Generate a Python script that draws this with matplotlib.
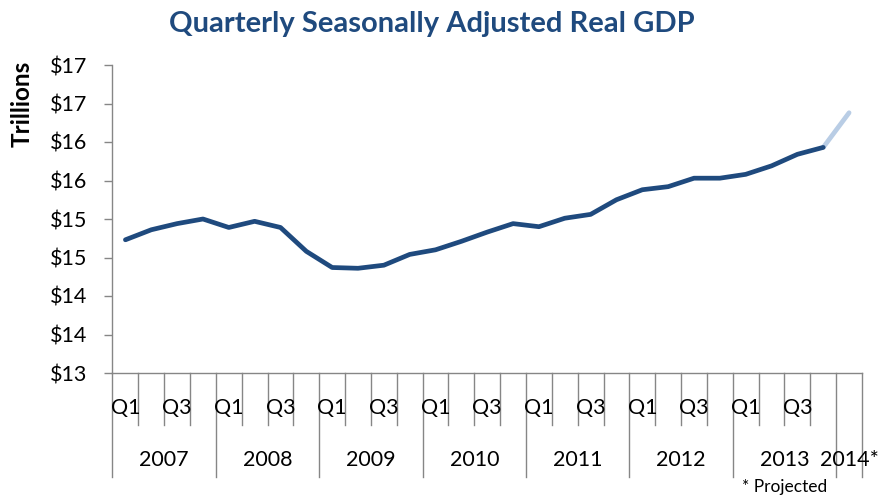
import matplotlib
matplotlib.use("Agg")
import matplotlib.pyplot as plt
import matplotlib.transforms as mtransforms

# ---------------- data ----------------
years = ["2007", "2008", "2009", "2010", "2011", "2012", "2013"]
quarter_labels = ["Q1", "", "Q3", ""]
projected_year = "2014*"
gdp = [14.73, 14.86, 14.94, 15.00, 14.89, 14.97, 14.89, 14.58,
       14.37, 14.36, 14.40, 14.54, 14.60, 14.71, 14.83, 14.94,
       14.90, 15.01, 15.06, 15.25, 15.38, 15.42, 15.53, 15.53,
       15.58, 15.69, 15.84, 15.93]
gdp_projected = 16.38
ytick_values = [13.0, 13.5, 14.0, 14.5, 15.0, 15.5, 16.0, 16.5, 17.0]
ytick_labels = ["$13", "$14", "$14", "$15", "$15", "$16", "$16", "$17", "$17"]
title = "Quarterly Seasonally Adjusted Real GDP"
ylabel = "Trillions"
footnote = "* Projected"

# ---------------- style ----------------
FONT = ["Lato", "DejaVu Sans"]
plt.rcParams["font.family"] = FONT
W, H, DPI = 895, 495, 100
AX_L, AX_R, AX_T, AX_B = 112.5, 862, 65, 373
GREY = "#868686"
DARK = "#1F4A7E"
LIGHT = "#B9CDE5"
LBL = 15.5

fig = plt.figure(figsize=(W / DPI, H / DPI), dpi=DPI)
ax = fig.add_axes([AX_L / W, 1 - AX_B / H, (AX_R - AX_L) / W, (AX_B - AX_T) / H])

n_q = len(gdp)
x_hist = list(range(n_q))
ax.plot(x_hist, gdp, color=DARK, lw=3.4, solid_capstyle="round",
        solid_joinstyle="round", zorder=3)
ax.plot([n_q - 1, n_q], [gdp[-1], gdp_projected], color=LIGHT, lw=3.4,
        solid_capstyle="round", zorder=2)

ax.set_xlim(-0.5, n_q + 0.5)
ax.set_ylim(ytick_values[0], ytick_values[-1])
ax.set_yticks(ytick_values)
ax.set_yticklabels(ytick_labels)
ax.tick_params(axis="y", direction="out", length=6, width=1, color=GREY,
               pad=12.5, labelsize=LBL)
ax.set_xticks([])
for s in ["top", "right"]:
    ax.spines[s].set_visible(False)
for s in ["left", "bottom"]:
    ax.spines[s].set_color(GREY)
    ax.spines[s].set_linewidth(1)

# multi-level category axis
ax_h = AX_B - AX_T
trans = mtransforms.blended_transform_factory(ax.transData, ax.transAxes)
q_tick_y = -(425 - AX_B) / ax_h
y_tick_y = -(477 - AX_B) / ax_h
q_label_y = -(408 - AX_B) / ax_h
y_label_y = -(460 - AX_B) / ax_h
foot_y = -(487 - AX_B) / ax_h

n_cat = n_q + 1
year_bounds = [-0.5 + 4 * i for i in range(len(years) + 1)] + [n_cat - 0.5]
for b in range(n_cat + 1):
    xb = b - 0.5
    bottom = y_tick_y if xb in year_bounds else q_tick_y
    ax.plot([xb, xb], [0, bottom], transform=trans, color=GREY, lw=1,
            clip_on=False, zorder=1)

for i, yr in enumerate(years):
    for j, ql in enumerate(quarter_labels):
        if ql:
            ax.text(4 * i + j, q_label_y, ql, transform=trans, ha="center",
                    va="center", fontsize=LBL, color="black")
    ax.text(4 * i + 1.5, y_label_y, yr, transform=trans, ha="center",
            va="center", fontsize=LBL, color="black")
ax.text(n_q, y_label_y, projected_year, transform=trans, ha="center",
        va="center", fontsize=LBL, color="black")
ax.text(4 * (len(years) - 1) + 1.5, foot_y, footnote, transform=trans,
        ha="center", va="center", fontsize=12.5, color="black")

fig.text(432 / W, 1 - 24 / H, title, ha="center", va="center",
         fontsize=21, fontweight="bold", color=DARK)
fig.text(22 / W, 1 - 104 / H, ylabel, ha="center", va="center",
         rotation=90, fontsize=17.5, fontweight="bold", color="black")

fig.savefig("out.png", dpi=DPI)
